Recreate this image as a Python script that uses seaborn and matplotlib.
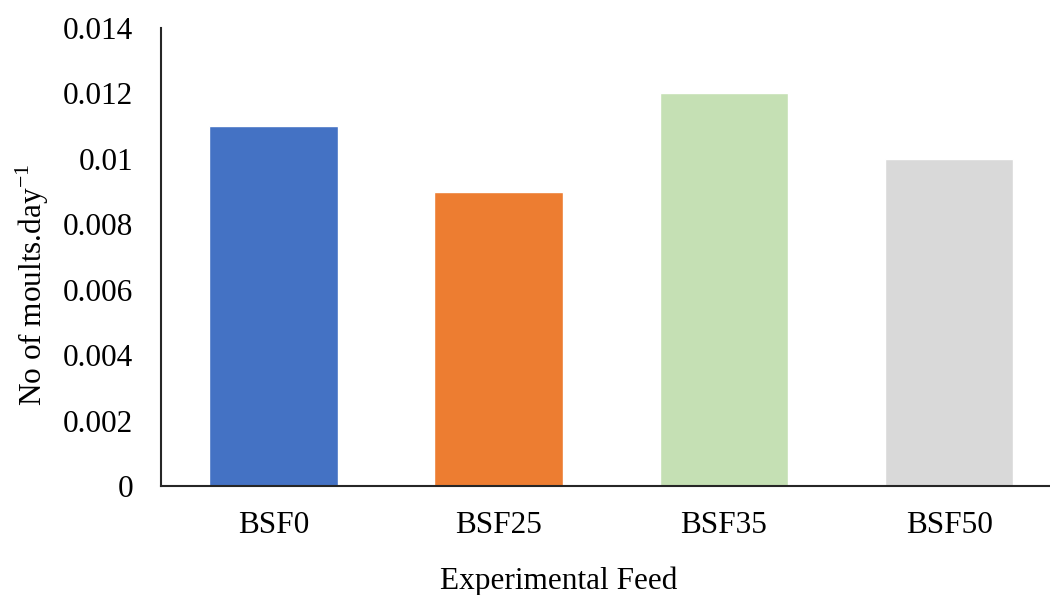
import matplotlib
matplotlib.use("Agg")
import matplotlib.pyplot as plt
import seaborn as sns
import pandas as pd

# data
feeds = ["BSF0", "BSF25", "BSF35", "BSF50"]
moults = [0.011, 0.009, 0.012, 0.010]
colours = ["#4472C4", "#ED7D31", "#C5E0B4", "#D9D9D9"]
yticks = [0, 0.002, 0.004, 0.006, 0.008, 0.01, 0.012, 0.014]
ytick_labels = ["0", "0.002", "0.004", "0.006", "0.008", "0.01", "0.012", "0.014"]

df = pd.DataFrame({"feed": feeds, "moults": moults})

sns.set_style("white")
plt.rcParams["font.family"] = ["Liberation Serif", "DejaVu Serif"]
plt.rcParams["mathtext.fontset"] = "custom"
plt.rcParams["mathtext.rm"] = "Liberation Serif"
plt.rcParams["text.color"] = "black"
plt.rcParams["axes.labelcolor"] = "black"

fig = plt.figure(figsize=(10.5, 5.95), dpi=100)
ax = fig.add_axes([0.1533, 0.1832, 0.8467, 0.7697])

sns.barplot(data=df, x="feed", y="moults", hue="feed", palette=colours,
            width=0.571, saturation=1, legend=False, ax=ax)

ax.set_xlim(-0.5, 3.448)
ax.set_ylim(0, 0.014)
ax.set_yticks(yticks)
ax.set_yticklabels(ytick_labels)
ax.tick_params(axis="both", length=0, labelsize=22.5, colors="black")
ax.tick_params(axis="y", pad=20)
ax.tick_params(axis="x", pad=18)

for side in ["top", "right"]:
    ax.spines[side].set_visible(False)
for side in ["left", "bottom"]:
    ax.spines[side].set_color("#262626")
    ax.spines[side].set_linewidth(1.5)

ax.set_xlabel("Experimental Feed", fontsize=22.5, color="black")
ax.set_ylabel("No of moults.day$^{\\mathrm{-1}}$", fontsize=22.5, color="black")
ax.xaxis.set_label_coords(0.447, -0.176)
ax.yaxis.set_label_coords(-0.124, 0.44)

fig.savefig("out.png", dpi=100)
